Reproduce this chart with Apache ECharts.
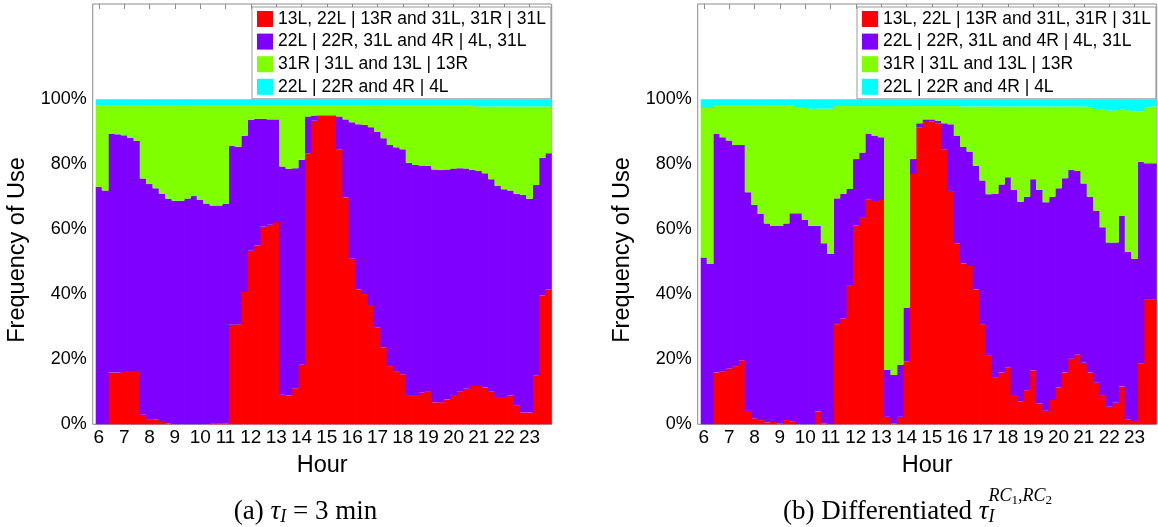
<!DOCTYPE html>
<html><head><meta charset="utf-8">
<script src="https://cdn.jsdelivr.net/npm/echarts@6/dist/echarts.min.js"></script>
<style>html,body{margin:0;padding:0;background:#fff}#c{width:1158px;height:527px}</style>
</head><body><div id="c"></div>
<script>
// ---- data ----
const hourTicks = [6,7,8,9,10,11,12,13,14,15,16,17,18,19,20,21,22,23];
const quarterMinutes = ['00', '15', '30', '45'];
const yTicks = [0,20,40,60,80,100];
const seriesNames = [
  '13L, 22L | 13R and 31L, 31R | 31L',
  '22L | 22R, 31L and 4R | 4L, 31L',
  '31R | 31L and 13L | 13R',
  '22L | 22R and 4R | 4L'
];
const seriesColors = ['#ff0000', '#8000ff', '#80ff00', '#00ffff'];

// panel (a) tau_I = 3 min  (percent per 15-min bin, 6:00 .. 23:45)
const redA = [0,0,15.9,15.9,16.4,16.4,16.4,2.9,1.6,1.5, 0.7,0.3,0,0,0,0,0,0,0.2,0.2, 0.3,30.6,30.8,40.7,53.4,55.0,60.8,61.4,62.2,9.1, 8.9,11.1,18.3,83.4,93.4,95.0,95.0,95.0,84.6,69.8, 50.9,41.5,40.1,36.4,29.8,23.7,17.9,16.2,15.4,9.0, 9.0,9.8,10.2,6.7,6.8,7.6,9.0,10.0,10.9,11.8, 11.8,11.3,10.0,8.4,8.4,8.9,5.9,3.6,3.6,14.9, 39.6,41.5];
const purpleA = [73.1,71.9,73.4,73.3,72.5,71.7,70.8,72.7,72.3,71.1, 70.2,69.1,68.8,68.8,69.5,70.2,69.0,67.9,67.1,67.1, 67.5,55.0,54.6,48.1,40.2,39.0,33.2,32.4,31.6,70.2, 69.7,67.7,63.1,11.3,1.6,0.1,0.1,0.1,10.1,24.0, 42.0,50.8,52.0,55.0,60.2,64.3,68.0,69.0,69.2,71.5, 70.8,69.8,69.3,71.7,71.4,70.8,69.7,68.8,67.8,66.4, 66.1,65.9,65.4,64.9,63.9,63.0,65.0,67.0,65.8,58.7, 42.3,41.9];
const greenA = [24.9,26.1,8.7,8.8,9.1,9.9,10.8,22.4,24.1,25.4, 27.1,28.6,29.2,29.2,28.5,27.8,29.0,30.1,30.7,30.7, 30.2,12.4,12.6,9.2,4.4,4.0,4.0,4.2,4.2,18.7, 19.4,19.2,16.6,3.3,3.0,2.9,2.9,2.9,3.3,4.2, 5.1,5.7,5.9,6.6,8.0,10.0,12.1,12.8,13.4,17.5, 18.2,18.4,18.5,19.6,19.8,19.6,19.3,19.2,19.3,19.8, 19.9,20.6,22.4,24.5,25.5,25.9,26.9,27.2,28.4,24.2, 15.9,14.4];
const cyanA = [2.0,2.0,2.0,2.0,2.0,2.0,2.0,2.0,2.0,2.0, 2.0,2.0,2.0,2.0,2.0,2.0,2.0,2.0,2.0,2.0, 2.0,2.0,2.0,2.0,2.0,2.0,2.0,2.0,2.0,2.0, 2.0,2.0,2.0,2.0,2.0,2.0,2.0,2.0,2.0,2.0, 2.0,2.0,2.0,2.0,2.0,2.0,2.0,2.0,2.0,2.0, 2.0,2.0,2.0,2.0,2.0,2.0,2.0,2.0,2.0,2.0, 2.2,2.2,2.2,2.2,2.2,2.2,2.2,2.2,2.2,2.2, 2.2,2.2];

// panel (b) differentiated tau_I
const redB = [0,0,15.9,16.2,17.2,17.9,19.7,4.1,1.8,1.3, 0.6,0.7,0.3,1.3,0.8,0,0,0,3.9,0.3, 0,30.8,32.6,42.6,61.1,63.5,69.2,68.7,69.0,2.3, 0.3,2.3,19.3,77.0,91.4,93.3,93.1,92.6,84.6,71.8, 55.7,49.5,48.7,41.5,30.8,21.3,14.5,15.9,17.5,9.0, 6.9,10.5,16.6,6.4,4.2,7.5,11.3,15.9,20.2,21.5, 18.9,15.9,12.8,9.0,5.4,6.6,11.6,1.5,1.0,18.6, 38.5,38.5];
const purpleB = [51.3,49.3,73.4,72.1,70.1,68.0,66.2,67.3,65.7,63.4, 61.2,60.3,60.7,60.5,64.1,64.9,62.9,61.1,57.2,55.4, 52.4,38.7,38.3,29.8,20.5,20.1,20.1,20.0,19.3,14.4, 14.9,16.0,16.6,4.6,1.2,0.5,0.7,0.8,8.0,20.5, 33.0,35.9,35.2,38.0,44.2,49.5,56.4,57.9,58.5,63.1, 61.6,59.5,58.8,65.7,64.1,62.5,61.3,59.8,58.0,56.5, 55.2,54.1,52.9,51.6,50.5,49.3,52.5,51.6,49.9,62.2, 41.8,41.8];
const greenB = [46.3,48.0,8.7,9.7,10.7,12.1,12.1,26.6,30.5,33.3, 36.2,37.0,37.0,36.2,33.1,32.7,34.7,36.0,36.0,41.4, 44.7,28.4,27.0,25.5,16.3,14.3,8.6,9.2,9.6,81.2, 82.7,79.6,62.0,16.3,5.3,4.1,4.1,4.5,5.3,5.6, 9.2,12.4,13.9,18.3,22.8,27.0,26.9,24.0,21.8,25.7, 29.3,27.8,22.4,25.7,29.5,27.8,25.2,22.1,19.6,19.8, 23.7,27.5,31.3,36.2,40.6,40.7,32.7,43.5,45.3,15.5, 17.2,17.5];
const cyanB = [2.4,2.7,2.0,2.0,2.0,2.0,2.0,2.0,2.0,2.0, 2.0,2.0,2.0,2.0,2.0,2.4,2.4,2.9,2.9,2.9, 2.9,2.1,2.1,2.1,2.1,2.1,2.1,2.1,2.1,2.1, 2.1,2.1,2.1,2.1,2.1,2.1,2.1,2.1,2.1,2.1, 2.1,2.2,2.2,2.2,2.2,2.2,2.2,2.2,2.2,2.2, 2.2,2.2,2.2,2.2,2.2,2.2,2.2,2.2,2.2,2.2, 2.2,2.5,3.0,3.2,3.5,3.4,3.2,3.4,3.8,3.7, 2.5,2.2];

const panelValues = [[redA, purpleA, greenA, cyanA], [redB, purpleB, greenB, cyanB]];

// ---- layout / style ----
const binLabels = hourTicks.flatMap(h => quarterMinutes.map(m => h + ':' + m));
const Y_MAX = 129.3;
const frameLefts = [92.7, 697.7];
const GAP = 3;                 // white gap between box edge and first bar
const FRAME_W = 459, GRID_TOP = 4, GRID_H = 420.3;
const AX = '#8c8c8c';
const SANS = 'Liberation Sans';
const SERIF = 'Liberation Serif';

const chart = echarts.init(document.getElementById('c'), null, {renderer: 'canvas'});

const grids = [];
frameLefts.forEach(l => grids.push({left: l + GAP, top: GRID_TOP, width: FRAME_W - GAP, height: GRID_H,
  show: false, containLabel: false}));
frameLefts.forEach(l => grids.push({left: l, top: GRID_TOP, width: FRAME_W, height: GRID_H,
  show: true, borderColor: AX, borderWidth: 1, backgroundColor: 'rgba(0,0,0,0)', containLabel: false}));

const xAxes = [];
[0,1].forEach(p => {
  xAxes.push({type: 'category', gridIndex: p, position: 'bottom', data: binLabels, boundaryGap: true,
    axisLine: {show: false}, splitLine: {show: false},
    axisTick: {show: true, inside: true, length: 5, alignWithLabel: true, interval: 3, lineStyle: {color: AX}},
    axisLabel: {show: true, interval: 3, margin: 4, color: '#000', fontFamily: SANS, fontSize: 19,
      formatter: v => v.split(':')[0], hideOverlap: false}});
  xAxes.push({type: 'category', gridIndex: p, position: 'top', data: binLabels, boundaryGap: true,
    axisLine: {show: false}, splitLine: {show: false},
    axisTick: {show: true, inside: true, length: 5, alignWithLabel: true, interval: 3, lineStyle: {color: AX}},
    axisLabel: {show: false}});
});
[2,3].forEach(g => xAxes.push({type: 'value', gridIndex: g, show: false, min: 0, max: 1}));

const yAxes = [0,1].map(p => ({type: 'value', gridIndex: p, min: 0, max: Y_MAX, offset: GAP,
  axisLine: {show: false}, splitLine: {show: false},
  axisTick: {show: false},
  axisLabel: {customValues: yTicks, margin: 6, color: '#000', fontFamily: SANS, fontSize: 18,
    formatter: v => Math.round(v) + '%'}}));
[2,3].forEach(g => yAxes.push({type: 'value', gridIndex: g, show: false, min: 0, max: 1}));

// bars are drawn slightly wider than their 6.33px band so neighbouring bars overlap (no anti-alias seams)
const series = [];
[0,1].forEach(p => {
  panelValues[p].forEach((vals, s) => {
    series.push({type: 'bar', name: seriesNames[s], stack: 'panel' + p,
      xAxisIndex: p * 2, yAxisIndex: p, barWidth: 7, barCategoryGap: 0,
      data: vals,
      itemStyle: {color: seriesColors[s], borderWidth: 0},
      emphasis: {disabled: true}, silent: true, animation: false});
  });
});

const legends = [252, 857].map(l => ({left: l, top: 7, orient: 'vertical', data: seriesNames,
  icon: 'rect', itemWidth: 16, itemHeight: 16, itemGap: 4.6, padding: [3, 5, 3, 5],
  backgroundColor: '#fff', borderColor: '#999', borderWidth: 1, selectedMode: false,
  textStyle: {fontFamily: SANS, fontSize: 17.5, color: '#000', lineHeight: 18}, z: 10}));

// captions
const mctx = document.createElement('canvas').getContext('2d');
function tw(font, s) { mctx.font = font; return mctx.measureText(s).width; }
function layoutPieces(pieces, cx, baseY) {
  const widths = pieces.map(pc => tw((pc.italic ? 'italic ' : '') + pc.size + 'px "' + SERIF + '"', pc.t));
  let total = 0;
  const xs = [];
  pieces.forEach((pc, i) => { xs.push(total); if (!pc.overlay) total += widths[i]; });
  pieces.forEach((pc, i) => { if (pc.overlay) xs[i] = xs[pc.anchor]; });
  const x0 = cx - total / 2;
  return pieces.map((pc, i) => ({type: 'text', x: x0 + xs[i], y: baseY + (pc.dy || 0),
    style: {text: pc.t, fontFamily: SERIF, fontSize: pc.size, fontStyle: pc.italic ? 'italic' : 'normal',
      fill: '#000', align: 'left', verticalAlign: 'middle'}}));
}
const capA = layoutPieces([
  {t: '(a) ', size: 27},
  {t: 'τ', size: 27, italic: true},
  {t: 'I', size: 18, italic: true, dy: 6},
  {t: ' = 3 min', size: 27}
], 305.5, 511.5);
const capB = layoutPieces([
  {t: '(b) Differentiated ', size: 27},
  {t: 'τ', size: 27, italic: true},
  {t: 'RC', size: 18, italic: true, dy: -15},
  {t: '1', size: 13, dy: -11},
  {t: ',', size: 18, dy: -15},
  {t: 'RC', size: 18, italic: true, dy: -15},
  {t: '2', size: 13, dy: -11},
  {t: 'I', size: 18, italic: true, dy: 6, overlay: true, anchor: 2}
], 917.5, 511.5);

const labelStyle = {fontFamily: SANS, fontSize: 23.5, fill: '#000', align: 'center', verticalAlign: 'middle'};
const graphics = [
  {type: 'text', x: 18, y: 250, rotation: Math.PI / 2, style: Object.assign({text: 'Frequency of Use'}, labelStyle)},
  {type: 'text', x: 623, y: 250, rotation: Math.PI / 2, style: Object.assign({text: 'Frequency of Use'}, labelStyle)},
  {type: 'text', x: 322.2, y: 466, style: Object.assign({text: 'Hour'}, labelStyle)},
  {type: 'text', x: 927.2, y: 466, style: Object.assign({text: 'Hour'}, labelStyle)},
  ...capA, ...capB
];

chart.setOption({
  animation: false,
  backgroundColor: '#fff',
  grid: grids,
  xAxis: xAxes,
  yAxis: yAxes,
  legend: legends,
  series: series,
  graphic: graphics
});
</script>
</body></html>
